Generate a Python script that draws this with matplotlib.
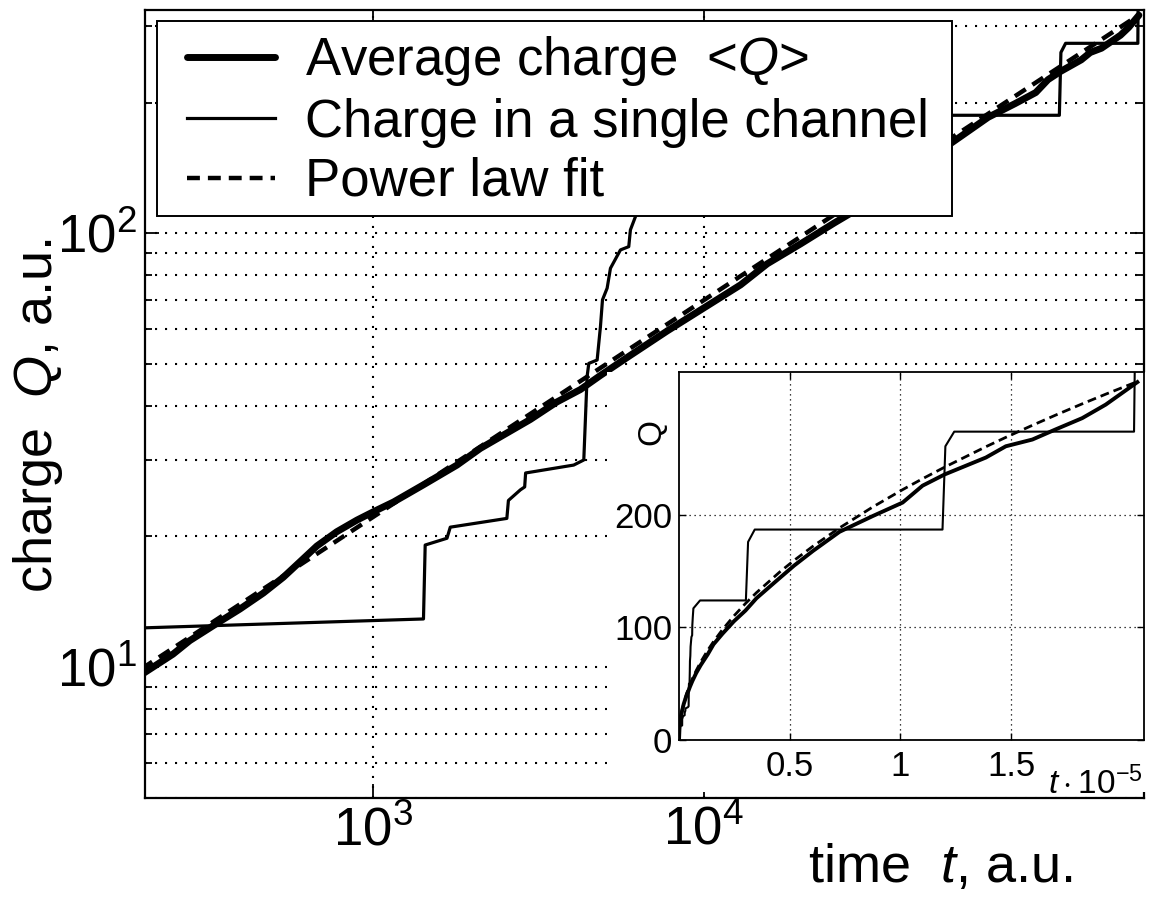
import numpy as np
import matplotlib
matplotlib.use("Agg")
import matplotlib.pyplot as plt
from matplotlib.ticker import FixedLocator, NullLocator, LogLocator, NullFormatter
from matplotlib.patches import Rectangle

plt.rcParams["font.family"] = ["Liberation Sans", "DejaVu Sans"]
plt.rcParams["mathtext.fontset"] = "custom"
plt.rcParams["mathtext.rm"] = "Liberation Sans"
plt.rcParams["mathtext.it"] = "Liberation Sans:italic"
plt.rcParams["mathtext.bf"] = "Liberation Sans:bold"

# ---- data: time t (a.u.) and charge Q (a.u.) ----
# average charge <Q> over all channels
t_avg = [0, 200, 249, 280, 338, 397, 467, 537, 604, 678, 779, 896, 1006, 1156,
         1424, 1798, 2115, 2996, 3600, 4244, 4880, 6012, 7763, 9793, 12940,
         15580, 19660, 24800, 30000, 35000, 45500, 52000, 60500, 72500, 87500,
         101000, 110000, 120000, 138600, 147600, 159600, 170100, 182100,
         192700, 207000]
q_avg = [0, 9.6, 10.7, 11.5, 12.6, 13.6, 14.8, 16.1, 17.5, 19.0, 20.5, 21.8,
         22.8, 24.0, 26.3, 29.2, 31.9, 37.2, 40.8, 43.6, 47.0, 52.3, 59.5, 66.5,
         76.0, 85.0, 94.5, 105.5, 115, 126, 144, 155, 168, 185, 199, 211, 226,
         236, 251, 261, 267, 276, 286, 298, 318]

# charge accumulated in one single channel
t_chan = [0, 200, 1424, 1441, 1677, 1716, 2544, 2572, 2795, 2880, 2899, 4051,
          4346, 4447, 4500, 4769, 4880, 4950, 5113, 5232, 5609, 5943, 6012,
          6227, 6500, 9500, 30200, 31200, 34200, 119000, 120300, 124300,
          205500, 206000]
q_chan = [0, 12.3, 12.9, 19.1, 19.8, 21.0, 22.0, 24.2, 25.6, 26.0, 28.0, 29.2,
          30.0, 46.7, 50.1, 51.0, 60.9, 70.2, 74.7, 83.0, 91.5, 93.1, 101.8,
          109.2, 117, 124, 124, 176, 187, 187, 261, 274, 274, 360]

# power law fit  Q = A * t**b
fit_amp = 0.70
fit_exp = 0.5

main_xticks = [1e3, 1e4]
main_yticks = [10, 100]
inset_xticks = [0.5, 1.0, 1.5]
inset_xtick_labels = ["0.5", "1", "1.5"]
inset_yticks = [0, 100, 200]
inset_ytick_labels = ["0", "100", "200"]

labels = [r"Average charge  <$Q$>", "Charge in a single channel", "Power law fit"]

t_avg_a = np.asarray(t_avg, float)
q_fit = fit_amp * t_avg_a ** fit_exp

# ---- figure layout in pixels ----
W, H = 1150, 898
fig = plt.figure(figsize=(W / 100, H / 100), dpi=100)


def fx(px):
    return px / W


def fy(py):
    return 1 - py / H


dotted_main = (0, (1, 3.8))
dotted_inset = (0, (1, 3.0))

ax = fig.add_axes([fx(145), fy(797.5), fx(1144) - fx(145), fy(10) - fy(797.5)])
ax.set_xscale("log", nonpositive="mask")
ax.set_yscale("log", nonpositive="mask")

l_chan, = ax.plot(t_chan, q_chan, color="k", lw=2.3, zorder=3)
l_avg, = ax.plot(t_avg, q_avg, color="k", lw=5.0, solid_joinstyle="round",
                 solid_capstyle="round", zorder=4)
l_fit, = ax.plot(t_avg, q_fit, color="k", lw=3.2, dashes=(2.9, 1.8), zorder=5)

ax.set_xlim(205, 2.145e5)
ax.set_ylim(5, 327)
ax.xaxis.set_major_locator(FixedLocator(main_xticks))
ax.xaxis.set_minor_locator(NullLocator())
ax.yaxis.set_major_locator(FixedLocator(main_yticks))
ax.yaxis.set_minor_locator(LogLocator(base=10, subs=np.arange(2, 10)))
ax.yaxis.set_minor_formatter(NullFormatter())
ax.tick_params(which="both", direction="in", top=True, right=True, width=1.3,
               labelsize=38, pad=6)
ax.tick_params(which="major", length=10)
ax.tick_params(which="minor", length=5)
ax.grid(True, which="major", axis="both", color="k", lw=1.5, ls=dotted_main)
ax.grid(True, which="minor", axis="y", color="k", lw=1.5, ls=dotted_main)
for s in ax.spines.values():
    s.set_linewidth(1.6)

# legend box drawn as its own white frame, entries placed inside it
ax.add_patch(Rectangle((fx(157), fy(216)), fx(952) - fx(157),
                       fy(21) - fy(216), transform=fig.transFigure,
                       facecolor="white", edgecolor="k", lw=1.4, zorder=6))
leg = ax.legend([l_avg, l_chan, l_fit], labels, loc="upper left",
                bbox_to_anchor=(fx(187), fy(34)),
                bbox_transform=fig.transFigure, fontsize=38, frameon=False,
                borderpad=0, handlelength=1.67, handletextpad=0.57,
                labelspacing=0.18, borderaxespad=0)
leg.set_zorder(7)

fig.text(fx(38), fy(415), r"charge  $Q$, a.u.", rotation=90, ha="center",
         va="center", fontsize=39)
fig.text(fx(808), fy(882), r"time  $t$, a.u.", ha="left", va="baseline",
         fontsize=39)

# white backing behind the inset and its tick labels
fig.add_artist(Rectangle((fx(607), fy(792)), fx(1148) - fx(607),
                         fy(372) - fy(792), transform=fig.transFigure,
                         facecolor="white", edgecolor="none", zorder=1))

# ---- inset on linear axes ----
ins = fig.add_axes([fx(679), fy(740), fx(1144) - fx(679), fy(372) - fy(740)])
ins.set_zorder(2)
scale = 1e-5
ins.plot(np.asarray(t_chan) * scale, q_chan, color="k", lw=1.5, zorder=3)
ins.plot(t_avg_a * scale, q_avg, color="k", lw=2.8, solid_joinstyle="round",
         zorder=4)
ins.plot(t_avg_a * scale, q_fit, color="k", lw=2.0, dashes=(3.2, 1.8), zorder=5)
ins.set_xlim(0, 2.1)
ins.set_ylim(0, 327)
ins.set_xticks(inset_xticks, labels=inset_xtick_labels)
ins.set_yticks(inset_yticks, labels=inset_ytick_labels)
ins.tick_params(direction="in", top=True, right=True, length=5, width=1.0,
                labelsize=25)
ins.tick_params(axis="x", pad=7)
ins.tick_params(axis="y", pad=5)
ins.grid(True, color="k", lw=0.9, ls=dotted_inset)
for s in ins.spines.values():
    s.set_linewidth(1.3)

fig.text(fx(652), fy(432), "Q", rotation=90, ha="center", va="center",
         fontsize=24)
fig.text(fx(1143), fy(794), r"$t\cdot\mathrm{10}^{-5}$", ha="right",
         va="baseline", fontsize=24)

fig.savefig("out.png", dpi=100)
